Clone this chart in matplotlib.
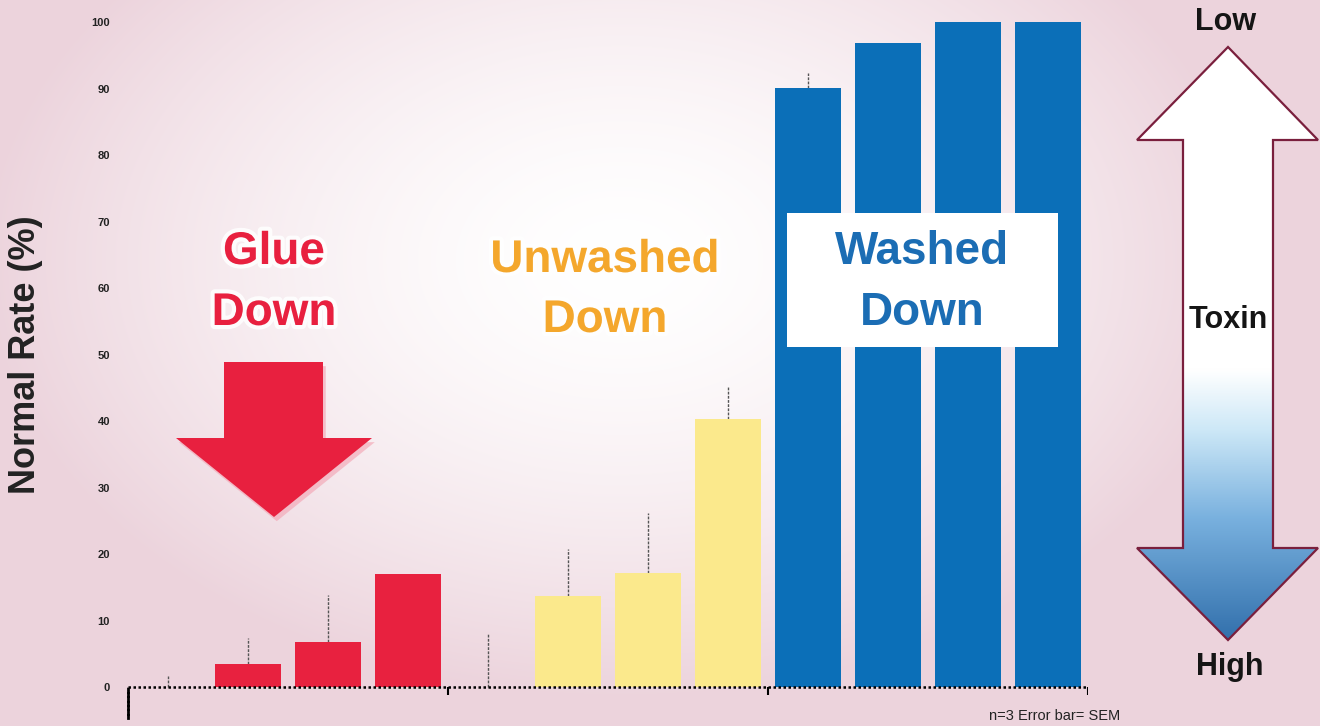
import numpy as np
import matplotlib.pyplot as plt
import matplotlib.patheffects as pe
from matplotlib.patches import Polygon, Rectangle

# data
glue = [0, 3.5, 6.8, 17.0]
glue_err = [1.6, 3.9, 7.0, 0]
unwashed = [0, 13.7, 17.1, 40.3]
unwashed_err = [8.0, 7.0, 9.0, 5.0]
washed = [90.1, 96.8, 100, 100]
washed_err = [2.2, 0, 0, 0]
yticks = list(range(0, 101, 10))
group_labels = ["Glue\nDown", "Unwashed\nDown", "Washed\nDown"]

plt.rcParams['font.family'] = ['Liberation Sans', 'DejaVu Sans']

W, H = 1320, 726
fig = plt.figure(figsize=(13.2, 7.26), dpi=100)

# soft pink background, white in the middle
bg = fig.add_axes([0, 0, 1, 1], zorder=0)
yy, xx = np.mgrid[0:H, 0:W]
d = np.sqrt(((xx - 620) / 640) ** 2 + ((yy - 260) / 440) ** 2)
t = np.clip(d, 0, 1) ** 1.6
pink = np.array([236, 211, 220]) / 255
img = (1 - t[..., None]) + pink * t[..., None]
bg.imshow(img, extent=[0, W, H, 0], aspect='auto')
bg.set_xlim(0, W)
bg.set_ylim(H, 0)
bg.axis('off')

# main chart
ylo = -4.66
ax = fig.add_axes([128 / W, 8 / H, 960 / W, 696 / H], zorder=1)
ax.patch.set_alpha(0)

vals = glue + unwashed + washed
errs = glue_err + unwashed_err + washed_err
colors = ['#e8213f'] * len(glue) + ['#fbe98c'] * len(unwashed) + ['#0b6fb8'] * len(washed)
x = np.arange(len(vals))

ax.bar(x, vals, width=0.82, color=colors, zorder=2)
eb = ax.errorbar(x, vals, yerr=[np.zeros(len(errs)), errs], fmt='none',
                 ecolor='#555555', elinewidth=1.0, capsize=0, zorder=1)
eb[2][0].set_linestyle((0, (2, 1)))

ax.set_xlim(-0.5, len(vals) - 0.5)
ax.set_ylim(ylo, 100)
ax.set_yticks(yticks)
ax.set_xticks([])
ax.tick_params(axis='y', length=0, pad=13, labelsize=8)
for lab in ax.get_yticklabels():
    lab.set_fontweight('bold')
    lab.set_color('#222222')

for s in ['top', 'right', 'bottom']:
    ax.spines[s].set_visible(False)
ax.spines['left'].set_bounds(ylo, 0)
ax.spines['left'].set_linewidth(2)
ax.spines['left'].set_linestyle((0, (1, 0.6)))

# dotted baseline and group separators
ax.plot([-0.5, len(vals) - 0.5], [0, 0], color='k', lw=1.8, ls=(0, (1, 1)),
        zorder=3, clip_on=False)
bounds = [len(glue) - 0.5, len(glue) + len(unwashed) - 0.5, len(vals) - 0.5]
ax.vlines(bounds, -1.2, 0, color='k', lw=1.5, zorder=3)

# annotations in pixel space
ov = fig.add_axes([0, 0, 1, 1], zorder=3)
ov.set_xlim(0, W)
ov.set_ylim(H, 0)
ov.axis('off')

glow = [pe.withStroke(linewidth=6, foreground='white', alpha=0.85)]

ov.text(26, 355, "Normal Rate (%)", rotation=90, ha='center', va='center',
        fontsize=26, fontweight='bold', color='#222222')

# red down arrow
red_arrow = Polygon([(224, 362), (323, 362), (323, 438), (372, 438), (274, 517),
                     (176, 438), (224, 438)], closed=True, facecolor='#e8203f',
                    edgecolor='none',
                    path_effects=[pe.SimplePatchShadow(offset=(2, -3), shadow_rgbFace='#f3a0b0', alpha=0.6),
                                  pe.Normal()])
ov.add_patch(red_arrow)

g1, g2, g3 = [s.split("\n") for s in group_labels]
ov.text(274, 252, g1[0], ha='center', va='center', fontsize=33, fontweight='bold',
        color='#e8203f', path_effects=glow)
ov.text(274, 313, g1[1], ha='center', va='center', fontsize=33, fontweight='bold',
        color='#e8203f', path_effects=glow)
ov.text(605, 260, g2[0], ha='center', va='center', fontsize=33, fontweight='bold',
        color='#f4a72c', path_effects=glow)
ov.text(605, 320, g2[1], ha='center', va='center', fontsize=33, fontweight='bold',
        color='#f4a72c', path_effects=glow)

ov.add_patch(Rectangle((787, 213), 271, 134, facecolor='white', edgecolor='none'))
ov.text(922, 252, g3[0], ha='center', va='center', fontsize=33, fontweight='bold',
        color='#1b6db4')
ov.text(922, 313, g3[1], ha='center', va='center', fontsize=33, fontweight='bold',
        color='#1b6db4')

# toxin double arrow with gradient fill
arrow_pts = [(1228, 47), (1318, 140), (1273, 140), (1273, 548), (1318, 548),
             (1228, 640), (1137, 548), (1183, 548), (1183, 140), (1137, 140)]
ys = np.linspace(47, 640, 300)
stops_y = [47, 370, 430, 520, 640]
stops_c = np.array([[255, 255, 255], [255, 255, 255], [205, 232, 247],
                    [120, 176, 222], [50, 112, 172]]) / 255
grad = np.stack([np.interp(ys, stops_y, stops_c[:, k]) for k in range(3)], axis=1)
grad = np.repeat(grad[:, None, :], 2, axis=1)
im = ov.imshow(grad, extent=[1130, 1320, 640, 47], aspect='auto', zorder=2)
outline = Polygon(arrow_pts, closed=True, facecolor='none', edgecolor='#7a1f3d',
                  lw=1.6, zorder=3)
ov.add_patch(outline)
im.set_clip_path(outline)
ov.set_xlim(0, W)
ov.set_ylim(H, 0)

ov.text(1226, 22, "Low", ha='center', va='center', fontsize=22, fontweight='bold', color='#151515')
ov.text(1228, 320, "Toxin", ha='center', va='center', fontsize=22, fontweight='bold',
        color='#151515', zorder=4)
ov.text(1230, 667, "High", ha='center', va='center', fontsize=22, fontweight='bold', color='#151515')

ov.text(1055, 716, "n=3 Error bar= SEM", ha='center', va='center', fontsize=10.5, color='#222222')

fig.savefig("out.png", dpi=100)
